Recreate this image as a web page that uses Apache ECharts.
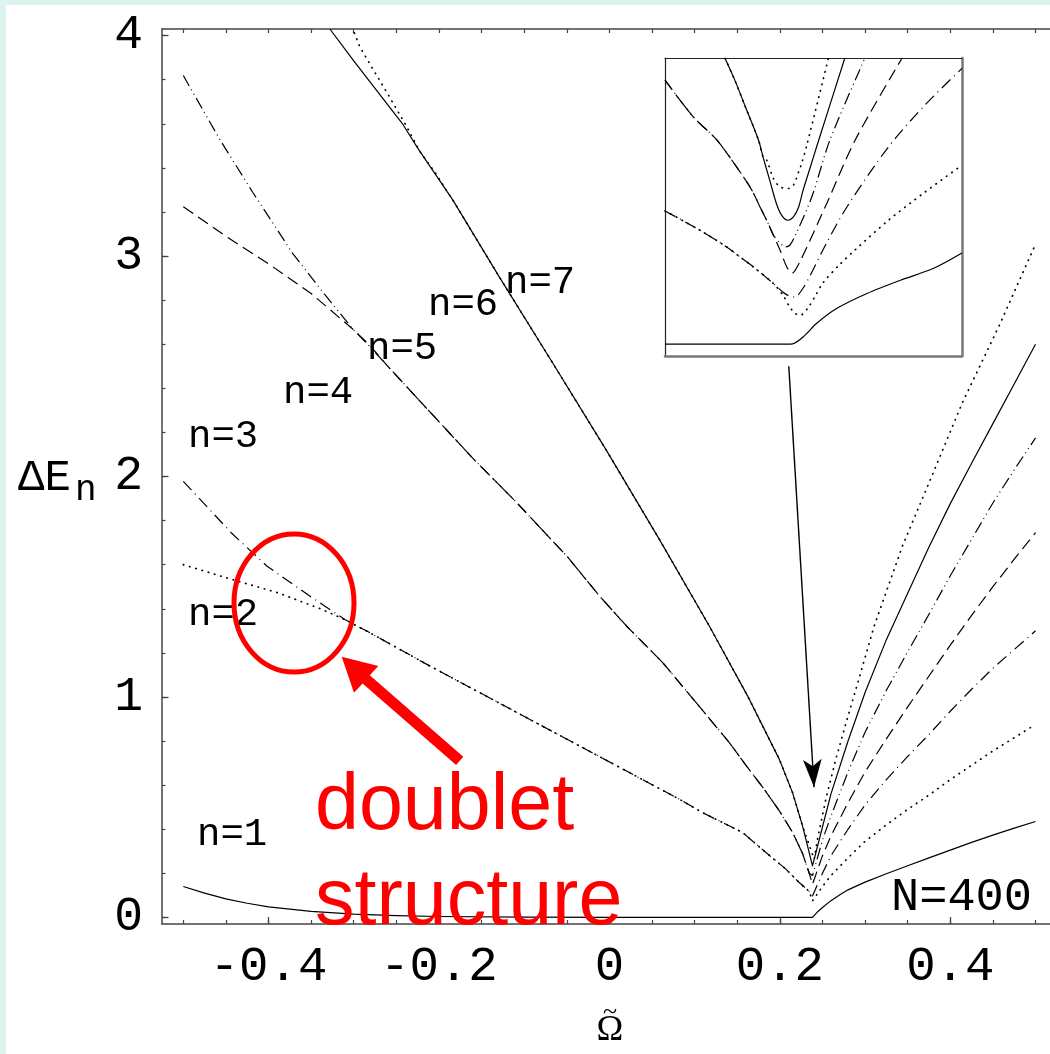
<!DOCTYPE html>
<html>
<head>
<meta charset="utf-8">
<script src="https://cdn.jsdelivr.net/npm/echarts@6/dist/echarts.min.js"></script>
<style>
  html, body { margin: 0; padding: 0; }
  #chart {
    width: 1050px;
    height: 1054px;
    background:
      linear-gradient(to right, #dcf4f0 6px, transparent 6px),
      linear-gradient(to bottom, #dcf4f0 5px, #ffffff 5px);
  }
</style>
</head>
<body>
<div id="chart"></div>
<script>
// axis ticks
const xTicks = [-0.4, -0.2, 0, 0.2, 0.4]
const xTickLabels = ["-0.4", "-0.2", "0", "0.2", "0.4"]
const yTicks = [0, 1, 2, 3, 4]
const yTickLabels = ["0", "1", "2", "3", "4"]

// main panel, [omega, dE]
const n1 = [[-0.5, 0.14], [-0.475, 0.11], [-0.45, 0.084], [-0.425, 0.064], [-0.4, 0.048], [-0.35, 0.027],
  [-0.3, 0.015], [-0.25, 0.008], [-0.2, 0.004], [-0.1, 0.001], [0, 0], [0.2383, 0], [0.245, 0.028],
  [0.25, 0.045], [0.26, 0.076], [0.27, 0.102], [0.28, 0.125], [0.3, 0.16], [0.325, 0.198], [0.35, 0.234],
  [0.375, 0.27], [0.4, 0.305], [0.425, 0.34], [0.45, 0.373], [0.475, 0.405], [0.5, 0.435]]

const n2Left = [[-0.5, 1.6], [-0.4438, 1.534], [-0.3893, 1.473], [-0.3391, 1.4]]
const n3Left = [[-0.5, 1.978], [-0.4438, 1.745], [-0.402, 1.594], [-0.3517, 1.458]]
const pair23 = [[-0.31, 1.35], [-0.2814, 1.292], [-0.211, 1.141], [-0.1524, 1.02], [-0.0938, 0.899],
  [-0.0352, 0.778], [0.0234, 0.657], [0.0821, 0.536], [0.1094, 0.475], [0.1563, 0.385], [0.1837, 0.294],
  [0.2071, 0.219], [0.2227, 0.158], [0.2345, 0.118]]
const n2Right = [[0.2383, 0.075], [0.25, 0.14], [0.26, 0.19], [0.28, 0.27], [0.3, 0.345], [0.325, 0.42],
  [0.35, 0.49], [0.375, 0.555], [0.4, 0.625], [0.425, 0.69], [0.45, 0.755], [0.475, 0.815], [0.5, 0.875]]
const n3Right = [[0.2383, 0.0975], [0.25, 0.2], [0.26, 0.28], [0.28, 0.4], [0.3, 0.51], [0.325, 0.625],
  [0.35, 0.73], [0.375, 0.83], [0.4, 0.935], [0.425, 1.035], [0.45, 1.13], [0.475, 1.215], [0.5, 1.3]]

const n4Left = [[-0.5, 3.224], [-0.45, 3.09], [-0.4, 2.965], [-0.35, 2.83], [-0.3, 2.665], [-0.28, 2.59]]
const n5Left = [[-0.5, 3.819], [-0.4572, 3.529], [-0.4182, 3.287], [-0.3713, 3.01], [-0.3391, 2.85],
  [-0.3014, 2.67], [-0.28, 2.585]]
const pair45 = [[-0.26, 2.5], [-0.2135, 2.305], [-0.1591, 2.078], [-0.1089, 1.882], [-0.0484, 1.632],
  [-0.0117, 1.458], [0.02, 1.322], [0.0625, 1.156], [0.1016, 0.975], [0.1407, 0.793], [0.1621, 0.68],
  [0.18, 0.59], [0.2, 0.48], [0.215, 0.385], [0.2266, 0.29], [0.2345, 0.2]]
const n4Right = [[0.2383, 0.15], [0.25, 0.28], [0.26, 0.37], [0.28, 0.52], [0.3, 0.66], [0.325, 0.81],
  [0.35, 0.955], [0.375, 1.095], [0.4, 1.235], [0.425, 1.37], [0.45, 1.5], [0.475, 1.625], [0.5, 1.745]]
const n5Right = [[0.2383, 0.19], [0.25, 0.35], [0.26, 0.46], [0.28, 0.66], [0.3, 0.84], [0.325, 1.03],
  [0.35, 1.205], [0.375, 1.375], [0.4, 1.55], [0.425, 1.715], [0.45, 1.88], [0.475, 2.03], [0.5, 2.175]]

const n6Left = [[-0.328, 4.03], [-0.3, 3.885], [-0.2423, 3.597], [-0.224, 3.484]]
const n7Left = [[-0.302, 4.04], [-0.293, 3.95], [-0.2775, 3.848], [-0.26, 3.735], [-0.2383, 3.59],
  [-0.2227, 3.476], [-0.203, 3.37]]
const pair67 = [[-0.19, 3.29], [-0.1842, 3.257], [-0.1298, 2.909], [-0.0669, 2.517], [-0.0042, 2.123],
  [0.0586, 1.715], [0.1172, 1.322], [0.1621, 1.005], [0.1993, 0.718], [0.2149, 0.566], [0.2266, 0.415]]
const n6Right = [[0.2383, 0.234], [0.25, 0.41], [0.26, 0.56], [0.28, 0.8], [0.3, 1.02], [0.325, 1.26],
  [0.35, 1.47], [0.375, 1.68], [0.4, 1.877], [0.425, 2.06], [0.45, 2.24], [0.475, 2.42], [0.5, 2.6]]
const n7Right = [[0.2403, 0.264], [0.2442, 0.355], [0.254, 0.537], [0.2657, 0.718], [0.2775, 0.88],
  [0.2941, 1.1], [0.3107, 1.322], [0.3439, 1.685], [0.3751, 1.972], [0.4142, 2.335], [0.4572, 2.683],
  [0.4982, 3.038]]

// inset, close-up of the crossing near omega = 0.24
const in1 = [[0.22, 0], [0.2364, 0], [0.2372, 0.0003], [0.2386, 0.0072], [0.2404, 0.0207], [0.2431, 0.0358],
  [0.2472, 0.051], [0.2517, 0.0644], [0.2561, 0.0762], [0.26, 0.0919]]
const inPair23 = [[0.22, 0.1343], [0.2247, 0.1148], [0.2283, 0.098], [0.2301, 0.0879], [0.2319, 0.0778],
  [0.2346, 0.0611]]
const in2Tail = [[0.2359, 0.0492], [0.2368, 0.0374], [0.2375, 0.0311], [0.2382, 0.029], [0.2392, 0.036],
  [0.2402, 0.048], [0.2413, 0.062], [0.2435, 0.08], [0.2456, 0.095], [0.2501, 0.1249], [0.255, 0.1532],
  [0.26, 0.1804]]
const in3Tail = [[0.2359, 0.0523], [0.2368, 0.0482], [0.2375, 0.0475], [0.2384, 0.0543], [0.2395, 0.0684],
  [0.2416, 0.0997], [0.2445, 0.1383], [0.2501, 0.1989], [0.255, 0.241], [0.26, 0.278]]
const inPair45 = [[0.22, 0.2662], [0.2238, 0.2292], [0.227, 0.2056], [0.2301, 0.1737], [0.2317, 0.1552],
  [0.2328, 0.1383], [0.2339, 0.1216], [0.2346, 0.1098]]
const in4Tail = [[0.2355, 0.0947], [0.2364, 0.0778], [0.2371, 0.0714], [0.2382, 0.0836], [0.2418, 0.1421],
  [0.2456, 0.2056], [0.2519, 0.288]]
const in5Tail = [[0.2354, 0.1027], [0.2362, 0.098], [0.2368, 0.0997], [0.2375, 0.1088], [0.2398, 0.1491],
  [0.2422, 0.2056], [0.2469, 0.288]]
const inPair67 = [[0.2281, 0.288], [0.2294, 0.2662], [0.2309, 0.2379], [0.2326, 0.2056], [0.2332, 0.1888]]
const in6Tail = [[0.2341, 0.1653], [0.235, 0.1418], [0.2357, 0.13], [0.2365, 0.1249], [0.2373, 0.1283],
  [0.238, 0.1383], [0.2386, 0.1552], [0.2393, 0.172], [0.24, 0.1888], [0.2407, 0.2056], [0.2442, 0.288]]
const in7Tail = [[0.2337, 0.1855], [0.2346, 0.167], [0.2355, 0.1585], [0.2366, 0.1569], [0.2373, 0.1602],
  [0.238, 0.1737], [0.2384, 0.1821], [0.2391, 0.2006], [0.242, 0.288]]

// arrow from inset down to the crossing
const arrowFrom = [0.2105, 2.5]
const arrowTo = [0.2401, 0.59]

const xMinor = []
for (let i = -10; i <= 10; i++) xMinor.push(i * 0.05)
const yMinor = []
for (let i = 0; i <= 20; i++) yMinor.push(i * 0.2)

const SOLID = "solid"
const DOT = [0.5, 6]
const DASH = [12, 6]
const DASHDOT = [12, 5, 1, 5]
const DASHDOTDOT = [12, 4, 1, 4, 1, 4]

function curve(name, data, dash, inset) {
  const dotted = Array.isArray(dash) && dash[0] < 1
  return {
    name,
    type: "line",
    xAxisIndex: inset ? 3 : 0,
    yAxisIndex: inset ? 2 : 0,
    data,
    symbol: "none",
    showSymbol: false,
    smooth: inset ? 0.3 : false,
    silent: true,
    animation: false,
    lineStyle: { color: "#000", width: dotted ? 1.7 : 1.2, type: dash, cap: dotted ? "round" : "butt", join: "round" },
  }
}

const mono = "Liberation Mono"

function label(text, x, y, font, align) {
  return {
    type: "text", x, y, z: 50,
    style: { text, font, fill: "#000", align: align || "left", verticalAlign: "middle",
      textAlign: align || "left", textVerticalAlign: "middle" },
  }
}

const chart = echarts.init(document.getElementById("chart"), null, { renderer: "canvas" })

const series = [
  curve("n=1", n1, SOLID),
  curve("n=2", n2Left.concat(pair23, n2Right), DOT),
  curve("n=3", n3Left.concat(pair23, n3Right), DASHDOT),
  curve("n=4", n4Left.concat(pair45, n4Right), DASH),
  curve("n=5", n5Left.concat(pair45, n5Right), DASHDOTDOT),
  curve("n=6", n6Left.concat(pair67, n6Right), SOLID),
  curve("n=7", n7Left.concat(pair67, n7Right), DOT),
  curve("in1", in1, SOLID, true),
  curve("in2", inPair23.concat(in2Tail), DOT, true),
  curve("in3", inPair23.concat(in3Tail), DASHDOT, true),
  curve("in4", inPair45.concat(in4Tail), DASH, true),
  curve("in5", inPair45.concat(in5Tail), DASHDOTDOT, true),
  curve("in6", inPair67.concat(in6Tail), SOLID, true),
  curve("in7", inPair67.concat(in7Tail), DOT, true),
]

series[0].markLine = {
  silent: true,
  animation: false,
  symbol: ["none", "arrow"],
  symbolSize: [14, 28],
  label: { show: false },
  lineStyle: { color: "#000", width: 1.4, type: "solid" },
  data: [[{ coord: arrowFrom }, { coord: arrowTo }]],
}

const frame = { color: "#444", width: 1.5 }
const noAxisBits = { axisTick: { show: false }, axisLabel: { show: false }, splitLine: { show: false } }

chart.setOption({
  animation: false,
  backgroundColor: "transparent",
  grid: [
    { left: 162, right: 0, top: 29, bottom: 130 },
    { left: 665, top: 58, width: 297, height: 298, show: true, backgroundColor: "#fff", borderWidth: 0 },
  ],
  xAxis: [
    {
      gridIndex: 0, type: "value", position: "bottom", min: -0.525, max: 0.517,
      axisLine: { show: true, onZero: false, lineStyle: frame },
      axisTick: { show: true, inside: true, length: 7, customValues: xTicks, lineStyle: { color: "#444", width: 1.3 } },
      axisLabel: {
        show: true, customValues: xTicks, margin: 19, color: "#000", fontFamily: mono, fontSize: 49,
        formatter: (v) => {
          const i = xTicks.findIndex((t) => Math.abs(t - v) < 1e-9)
          return i < 0 ? "" : xTickLabels[i]
        },
      },
      splitLine: { show: false },
    },
    {
      gridIndex: 0, type: "value", position: "bottom", min: -0.525, max: 0.517,
      axisLine: { show: false, onZero: false },
      axisTick: { show: true, inside: true, length: 4, customValues: xMinor, lineStyle: { color: "#444", width: 1.2 } },
      axisLabel: { show: false }, splitLine: { show: false },
    },
    {
      gridIndex: 0, type: "value", position: "top", min: -0.525, max: 0.517,
      axisLine: { show: true, onZero: false, lineStyle: frame },
      axisTick: { show: true, inside: true, length: 4, customValues: xMinor, lineStyle: { color: "#444", width: 1.2 } },
      axisLabel: { show: false }, splitLine: { show: false },
    },
    {
      gridIndex: 1, type: "value", position: "bottom", min: 0.22, max: 0.26,
      axisLine: { show: true, onZero: false, lineStyle: { color: "#777", width: 2.5 } }, ...noAxisBits,
    },
    {
      gridIndex: 1, type: "value", position: "top", min: 0.22, max: 0.26,
      axisLine: { show: true, onZero: false, lineStyle: { color: "#222", width: 1.2 } }, ...noAxisBits,
    },
  ],
  yAxis: [
    {
      gridIndex: 0, type: "value", position: "left", min: -0.03, max: 4.03,
      axisLine: { show: true, onZero: false, lineStyle: frame },
      axisTick: { show: true, inside: true, length: 6.5, customValues: yTicks, lineStyle: { color: "#444", width: 1.3 } },
      axisLabel: {
        show: true, customValues: yTicks, margin: 19, color: "#000", fontFamily: mono, fontSize: 48,
        formatter: (v) => {
          const i = yTicks.findIndex((t) => Math.abs(t - v) < 1e-9)
          return i < 0 ? "" : yTickLabels[i]
        },
      },
      splitLine: { show: false },
    },
    {
      gridIndex: 0, type: "value", position: "left", min: -0.03, max: 4.03,
      axisLine: { show: false, onZero: false },
      axisTick: { show: true, inside: true, length: 3.5, customValues: yMinor, lineStyle: { color: "#444", width: 1.2 } },
      axisLabel: { show: false }, splitLine: { show: false },
    },
    {
      gridIndex: 1, type: "value", position: "left", min: -0.012, max: 0.2885,
      axisLine: { show: true, onZero: false, lineStyle: { color: "#222", width: 1.2 } }, ...noAxisBits,
    },
    {
      gridIndex: 1, type: "value", position: "right", min: -0.012, max: 0.2885,
      axisLine: { show: true, onZero: false, lineStyle: { color: "#777", width: 2.5 } }, ...noAxisBits,
    },
  ],
  series,
  graphic: [
    label("n=1", 197, 835, `39px "${mono}"`),
    label("n=2", 188, 615, `39px "${mono}"`),
    label("n=3", 188, 437, `39px "${mono}"`),
    label("n=4", 283, 393, `39px "${mono}"`),
    label("n=5", 367, 349, `39px "${mono}"`),
    label("n=6", 428, 305, `39px "${mono}"`),
    label("n=7", 505, 283, `39px "${mono}"`),
    label("N=400", 891, 898, `47px "${mono}"`),
    label("\u0394E", 18, 478, `44px "${mono}"`),
    label("n", 75, 490, `36px "${mono}"`),
    label("\u03A9", 610, 1031, '36px "Liberation Serif"', "center"),
    label("~", 610, 1012, '26px "Liberation Serif"', "center"),
    {
      type: "ellipse", z: 100,
      shape: { cx: 294, cy: 603, rx: 60, ry: 69 },
      style: { fill: "none", stroke: "#ff0000", lineWidth: 5 },
    },
    {
      type: "polygon", z: 100,
      shape: { points: [[341.7, 656.7], [378.3, 666], [369.8, 675.2], [463.3, 756.7], [456.1, 764.9], [362.6, 683.4], [354, 692.7]] },
      style: { fill: "#ff0000" },
    },
    {
      type: "text", x: 315, y: 807, z: 100,
      style: { text: "doublet", font: '79px "Liberation Sans"', fill: "#ff0000", align: "left",
        verticalAlign: "middle", textAlign: "left", textVerticalAlign: "middle" },
    },
    {
      type: "text", x: 315, y: 902, z: 100,
      style: { text: "structure", font: '79px "Liberation Sans"', fill: "#ff0000", align: "left",
        verticalAlign: "middle", textAlign: "left", textVerticalAlign: "middle" },
    },
  ],
})
</script>
</body>
</html>
